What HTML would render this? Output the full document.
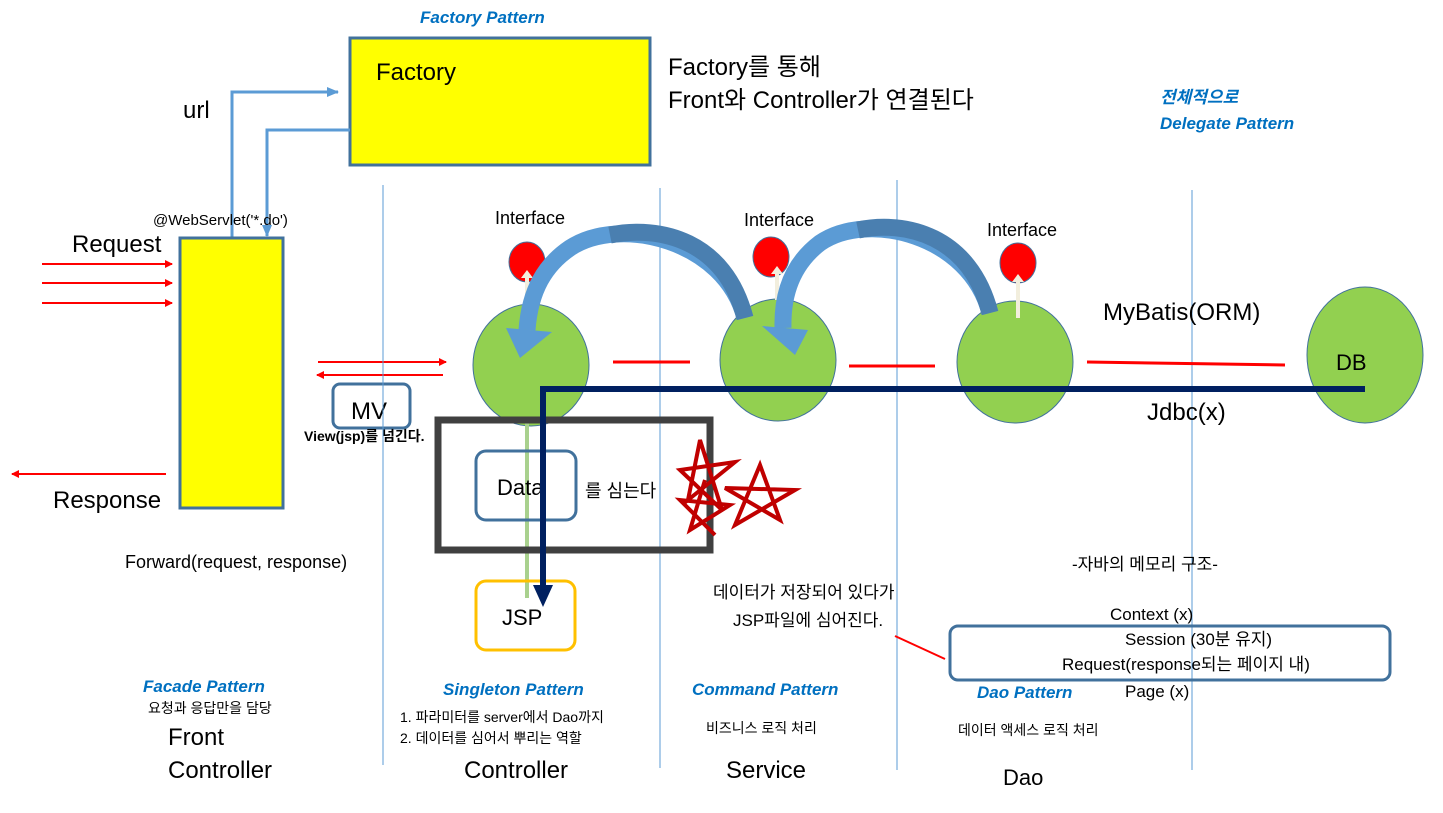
<!DOCTYPE html>
<html><head><meta charset="utf-8"><style>
body{margin:0;background:#fff}
svg{display:block;font-family:"Liberation Sans","Noto Sans CJK KR",sans-serif}
.bp{fill:#0070c0;font-style:italic;font-weight:bold;font-size:17px}
</style></head><body>
<svg width="1443" height="813" viewBox="0 0 1443 813">
<defs>
<marker id="ar" markerWidth="8" markerHeight="8" refX="7" refY="4" orient="auto" markerUnits="userSpaceOnUse"><path d="M0,0 L8,4 L0,8z" fill="#f00"/></marker>
<marker id="ab" markerWidth="12" markerHeight="10" refX="11" refY="5" orient="auto" markerUnits="userSpaceOnUse"><path d="M0,0 L12,5 L0,10z" fill="#5b9bd5"/></marker>
</defs>
<text x="420" y="23" class="bp">Factory Pattern</text>
<rect x="350" y="38" width="300" height="127" fill="#ff0" stroke="#41719c" stroke-width="3"/>
<text x="376" y="80" font-size="24">Factory</text>
<text x="668" y="75" font-size="24">Factory를 통해</text>
<text x="668" y="108" font-size="24">Front와 Controller가 연결된다</text>
<text x="1160" y="103" class="bp">전체적으로</text>
<text x="1160" y="129" class="bp">Delegate Pattern</text>
<text x="183" y="118" font-size="24">url</text>
<polyline points="232,238 232,92 338,92" fill="none" stroke="#5b9bd5" stroke-width="3" marker-end="url(#ab)"/>
<polyline points="350,130 267,130 267,236" fill="none" stroke="#5b9bd5" stroke-width="3" marker-end="url(#ab)"/>
<rect x="180" y="238" width="103" height="270" fill="#ff0" stroke="#41719c" stroke-width="3"/>
<text x="153" y="225" font-size="15">@WebServlet('*.do')</text>
<text x="72" y="252" font-size="24">Request</text>
<g stroke="#f00" stroke-width="2">
<line x1="42" y1="264" x2="172" y2="264" marker-end="url(#ar)"/>
<line x1="42" y1="283" x2="172" y2="283" marker-end="url(#ar)"/>
<line x1="42" y1="303" x2="172" y2="303" marker-end="url(#ar)"/>
<line x1="166" y1="474" x2="12" y2="474" marker-end="url(#ar)"/>
<line x1="318" y1="362" x2="446" y2="362" marker-end="url(#ar)"/>
<line x1="443" y1="375" x2="317" y2="375" marker-end="url(#ar)"/>
</g>
<text x="53" y="508" font-size="24">Response</text>
<text x="125" y="568" font-size="18">Forward(request, response)</text>
<rect x="333" y="384" width="77" height="44" rx="7" fill="#fff" stroke="#41719c" stroke-width="3"/>
<text x="351" y="419" font-size="24">MV</text>
<text x="304" y="441" font-size="14" font-weight="bold">View(jsp)를 넘긴다.</text>
<g stroke="#5b9bd5" stroke-width="1">
<line x1="383" y1="185" x2="383" y2="765"/><line x1="660" y1="188" x2="660" y2="768"/>
<line x1="897" y1="180" x2="897" y2="770"/><line x1="1192" y1="190" x2="1192" y2="770"/>
</g>
<g fill="#92d050" stroke="#41719c" stroke-width="1">
<ellipse cx="531" cy="365" rx="58" ry="61"/><ellipse cx="778" cy="360" rx="58" ry="61"/>
<ellipse cx="1015" cy="362" rx="58" ry="61"/><ellipse cx="1365" cy="355" rx="58" ry="68"/>
</g>
<g fill="#f00" stroke="#41719c"><ellipse cx="527" cy="262" rx="18" ry="20"/><ellipse cx="771" cy="257" rx="18" ry="20"/><ellipse cx="1018" cy="263" rx="18" ry="20"/></g>
<g stroke="#f2eedd" stroke-width="4"><line x1="527" y1="305" x2="527" y2="276"/><line x1="777" y1="300" x2="777" y2="272"/><line x1="1018" y1="318" x2="1018" y2="280"/></g>
<g fill="#f2eedd"><path d="M527,270 l6,8 h-12z M777,266 l6,8 h-12z M1018,274 l6,8 h-12z"/></g>
<text x="495" y="224" font-size="18">Interface</text>
<text x="744" y="226" font-size="18">Interface</text>
<text x="987" y="236" font-size="18">Interface</text>
<!-- curved arrows -->
<path d="M745,318 C725,240 620,215 570,248 C545,265 530,290 527,330" fill="none" stroke="#5b9bd5" stroke-width="17"/>
<path d="M745,318 C725,240 660,225 610,235" fill="none" stroke="#4a7fb0" stroke-width="17"/>
<path d="M506,328 L552,332 L520,358 Z" fill="#5b9bd5"/>
<path d="M990,313 C970,235 868,210 820,243 C795,262 782,290 783,328" fill="none" stroke="#5b9bd5" stroke-width="17"/>
<path d="M990,313 C970,235 905,220 858,230" fill="none" stroke="#4a7fb0" stroke-width="17"/>
<path d="M762,326 L808,330 L795,355 Z" fill="#5b9bd5"/>
<g stroke="#f00" stroke-width="3"><line x1="613" y1="362" x2="690" y2="362"/><line x1="849" y1="366" x2="935" y2="366"/><line x1="1087" y1="362" x2="1285" y2="365"/></g>
<text x="1103" y="320" font-size="24">MyBatis(ORM)</text>
<text x="1336" y="370" font-size="22">DB</text>
<text x="1147" y="420" font-size="24">Jdbc(x)</text>
<line x1="527" y1="422" x2="527" y2="598" stroke="#a9d18e" stroke-width="4"/>
<rect x="438" y="420" width="272" height="130" fill="none" stroke="#404040" stroke-width="7"/>
<rect x="476" y="451" width="100" height="69" rx="10" fill="none" stroke="#41719c" stroke-width="3"/>
<text x="497" y="495" font-size="22">Data</text>
<text x="585" y="497" font-size="18">를 심는다</text>
<rect x="476" y="581" width="99" height="69" rx="10" fill="none" stroke="#ffc000" stroke-width="3"/>
<text x="502" y="625" font-size="22">JSP</text>
<polyline points="1365,389 543,389 543,590" fill="none" stroke="#002060" stroke-width="6"/>
<path d="M533,585 L553,585 L543,607z" fill="#002060"/>
<g fill="none" stroke="#c00000" stroke-width="4">
<path d="M700,440 L688,500 L735,462 L680,470 L722,510 Z"/>
<path d="M760,465 L735,525 L795,490 L725,488 L780,520 Z"/>
<path d="M705,480 L690,530 L730,505 L680,500 L715,535"/>
</g>
<text x="713" y="598" font-size="17">데이터가 저장되어 있다가</text>
<text x="733" y="626" font-size="17">JSP파일에 심어진다.</text>
<line x1="895" y1="636" x2="945" y2="659" stroke="#f00" stroke-width="2"/>
<text x="1072" y="570" font-size="17">-자바의 메모리 구조-</text>
<text x="1110" y="620" font-size="17">Context (x)</text>
<rect x="950" y="626" width="440" height="54" rx="8" fill="none" stroke="#41719c" stroke-width="3"/>
<text x="1125" y="645" font-size="17">Session (30분 유지)</text>
<text x="1062" y="670" font-size="17">Request(response되는 페이지 내)</text>
<text x="1125" y="697" font-size="17">Page (x)</text>
<text x="143" y="692" class="bp">Facade Pattern</text>
<text x="148" y="713" font-size="14">요청과 응답만을 담당</text>
<text x="168" y="745" font-size="24">Front</text>
<text x="168" y="778" font-size="24">Controller</text>
<text x="443" y="695" class="bp">Singleton Pattern</text>
<text x="400" y="722" font-size="14">1.  파라미터를 server에서 Dao까지</text>
<text x="400" y="743" font-size="14">2.  데이터를 심어서 뿌리는 역할</text>
<text x="464" y="778" font-size="24">Controller</text>
<text x="692" y="695" class="bp">Command Pattern</text>
<text x="706" y="733" font-size="14">비즈니스 로직 처리</text>
<text x="726" y="778" font-size="24">Service</text>
<text x="977" y="698" class="bp">Dao Pattern</text>
<text x="958" y="735" font-size="14">데이터 액세스 로직 처리</text>
<text x="1003" y="785" font-size="22">Dao</text>
</svg>
</body></html>
